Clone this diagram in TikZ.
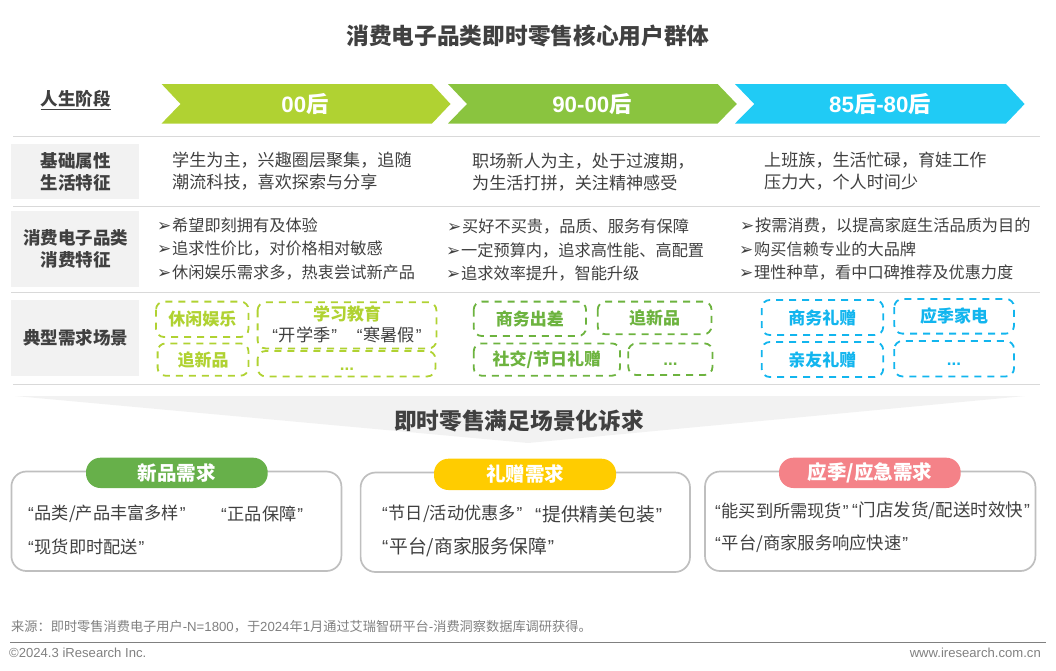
\documentclass[tikz,border=0pt]{standalone}
\usepackage{fontspec}
\setmainfont{Noto Sans CJK SC}
\newfontfamily\latf{Liberation Sans}
\newfontfamily\dej{DejaVu Sans}
\newcommand{\la}[1]{{\latf #1}}
\newcommand{\lqm}{\la{“}\hspace{.8pt}}
\newcommand{\rqm}{\hspace{.8pt}\la{”}}
\newcommand{\bu}{{\dej\fontsize{17}{18}\selectfont ➢}\hspace{.7pt}}
\definecolor{ink}{HTML}{404040}
\definecolor{lime}{HTML}{B0D232}
\definecolor{leaf}{HTML}{8AC43F}
\definecolor{leafd}{HTML}{6DB33F}
\definecolor{sky}{HTML}{20CBF5}
\definecolor{skyd}{HTML}{12B5EE}
\definecolor{panel}{HTML}{F2F2F2}
\definecolor{rulec}{HTML}{D9D9D9}
\definecolor{pillg}{HTML}{67B04A}
\definecolor{pilly}{HTML}{FFCC00}
\definecolor{pillr}{HTML}{F48288}
\tikzset{
  body/.style={anchor=west,inner sep=0pt,text=ink,align=left,font=\fontsize{17.1}{22}\selectfont},
  bul/.style={anchor=west,inner sep=0pt,text=ink,font=\fontsize{16.2}{18}\selectfont},
  chev/.style={fill=#1,draw=none},
  chevt/.style={text=white,inner sep=0pt,font=\fontsize{22.3}{24}\selectfont\bfseries},
  head/.style={text=ink,inner sep=0pt,align=center,font=\fontsize{17.5}{22}\selectfont\bfseries},
  sep/.style={draw=rulec,line width=1pt},
  dline/.style={draw=#1,line width=1.8pt,dash pattern=on 7pt off 6pt,line cap=butt,rounded corners=8pt},
  dtext/.style={inner sep=0pt,text=#1,font=\fontsize{17}{20}\selectfont\bfseries},
  card/.style={draw=black!25,line width=1.7pt,rounded corners=15pt,fill=white},
  pill/.style={fill=#1,rounded corners=14.5pt,text=white,inner sep=0pt,font=\fontsize{19.5}{20}\selectfont\bfseries},
  quo/.style={anchor=west,inner sep=0pt,text=ink,font=\fontsize{#1}{20}\selectfont},
  quo/.default=17.2,
}
% name, x1, y1, x2, y2, colour, text
\newcommand{\dbx}[7]{\draw[dline=#6] (#2,#3) rectangle (#4,#5); \node[dtext=#6] (#1) at ({(#2+#4)/2},{(#3+#5)/2}) {#7};}
\newcommand{\ripe}[7]{\node[pill=#6,minimum width={(#4-#2)*1pt},minimum height={(#5-#3)*1pt}] (#1) at ({(#2+#4)/2},{(#3+#5)/2}) {#7};}
\begin{document}
\begin{tikzpicture}[x=1pt,y=-1pt]
\useasboundingbox (0,0) rectangle (1056,670);
\node[inner sep=0pt,text=ink,font=\fontsize{22.7}{24}\selectfont\bfseries] (title) at (528,36) {消费电子品类即时零售核心用户群体};
% chevrons
\fill[chev=lime] (161.6,84) -- (432,84) -- (450.5,104) -- (432,123.5) -- (161.6,123.5) -- (180.5,104) -- cycle;
\fill[chev=leaf] (448,84) -- (717.6,84) -- (736.8,104) -- (717.6,123.5) -- (448,123.5) -- (467,104) -- cycle;
\fill[chev=sky] (735,84) -- (1006,84) -- (1024.6,104) -- (1006,123.5) -- (735,123.5) -- (754.3,104) -- cycle;
\node[chevt] (a1) at (305,104) {\la{00}后};
\node[chevt] (a2) at (592,104) {\la{90-00}后};
\node[chevt] (a3) at (880,104) {\la{85}后\la{-80}后};
\node[head] (life) at (75.5,100) {\underline{人生阶段}};
% rules
\draw[sep] (13,136.3) -- (1040,136.3);
\draw[sep] (13,206) -- (1040,206);
\draw[sep] (11,292.6) -- (1040,292.6);
\draw[sep] (13,384.8) -- (1040,384.8);
% row labels
\fill[panel] (11,143.7) rectangle (139,199.3);
\fill[panel] (11,211.4) rectangle (139,287);
\fill[panel] (11,300.3) rectangle (139,376);
\node[head] (r1) at (75.5,171.5) {基础属性\\生活特征};
\node[head] (r2) at (75.5,249) {消费电子品类\\消费特征};
\node[head] (r3) at (75.5,338) {典型需求场景};
% row 1
\node[body] (b1) at (172,171) {学生为主，兴趣圈层聚集，追随\\潮流科技，喜欢探索与分享};
\node[body] (b2) at (472,172) {职场新人为主，处于过渡期，\\为生活打拼，关注精神感受};
\node[body] (b3) at (764,171) {上班族，生活忙碌，育娃工作\\压力大，个人时间少};
% row 2
\node[bul] (c11) at (157,225.5) {\bu 希望即刻拥有及体验};
\node[bul] (c12) at (157,249) {\bu 追求性价比，对价格相对敏感};
\node[bul] (c13) at (157,272.5) {\bu 休闲娱乐需求多，热衷尝试新产品};
\node[bul] (c21) at (447,226.5) {\bu 买好不买贵，品质、服务有保障};
\node[bul] (c22) at (446,250) {\bu 一定预算内，追求高性能、高配置};
\node[bul] (c23) at (446,273) {\bu 追求效率提升，智能升级};
\node[bul] (c31) at (740,225.5) {\bu 按需消费，以提高家庭生活品质为目的};
\node[bul] (c32) at (739,249) {\bu 购买信赖专业的大品牌};
\node[bul] (c33) at (739,272.5) {\bu 理性种草，看中口碑推荐及优惠力度};
% row 3
\dbx{d1}{156}{301.6}{248.5}{337}{lime}{休闲娱乐}
\dbx{d2}{257.6}{302.3}{436.4}{348.4}{lime}{}
\dbx{d3}{157.6}{343.4}{248.5}{375.7}{lime}{追新品}
\dbx{d4}{257.6}{351}{435.4}{376.4}{lime}{}
\node[dtext=lime] (d4t) at (347,369) {\la{...}};
\node[dtext=lime] (d2t) at (347,314) {学习教育};
\node[inner sep=0pt,text=ink,font=\fontsize{17.2}{20}\selectfont] (d2q) at (347,335) {\lqm 开学季\rqm\hspace{20pt}\lqm 寒暑假\rqm};
\dbx{e1}{473.7}{301.6}{586}{336}{leafd}{商务出差}
\dbx{e2}{597.7}{301.6}{711.5}{334.3}{leafd}{追新品}
\dbx{e3}{473.7}{343.4}{620}{375.7}{leafd}{社交/节日礼赠}
\dbx{e4}{628.3}{343.4}{712.5}{375}{leafd}{}
\node[dtext=leafd] (e4t) at (670.5,364.5) {\la{...}};
\dbx{f1}{761.7}{300}{883.2}{335}{skyd}{商务礼赠}
\dbx{f2}{894.3}{299}{1014}{333.6}{skyd}{应季家电}
\dbx{f3}{761.7}{342}{883.2}{377}{skyd}{亲友礼赠}
\dbx{f4}{894.3}{341}{1014}{376.4}{skyd}{}
\node[dtext=skyd] (f4t) at (954,364.5) {\la{...}};
% banner
\fill[panel] (15,396) -- (1025,396) -- (528,443) -- cycle;
\node[inner sep=0pt,text=ink,font=\fontsize{22.7}{24}\selectfont\bfseries] (sub) at (519,421) {即时零售满足场景化诉求};
% cards
\draw[card] (11.4,471.5) rectangle (341.4,571);
\draw[card] (360.6,472.5) rectangle (690,572);
\draw[card] (705,471.5) rectangle (1035.4,571);
\ripe{p1}{86}{457.7}{267.7}{488}{pillg}{新品需求}
\ripe{p2}{434}{458.7}{616}{490}{pilly}{礼赠需求}
\ripe{p3}{779}{457.7}{960.7}{488}{pillr}{应季/应急需求}
\node[quo] (q11) at (28,514) {\lqm 品类/产品丰富多样\rqm};
\node[quo] (q12) at (221,514) {\lqm 正品保障\rqm};
\node[quo] (q13) at (28,547) {\lqm 现货即时配送\rqm};
\node[quo] (q21) at (382,514) {\lqm 节日/活动优惠多\rqm};
\node[quo=18.8] (q22) at (535,514) {\lqm 提供精美包装\rqm};
\node[quo=18.8] (q23) at (382,547) {\lqm 平台/商家服务保障\rqm};
\node[quo=17.2] (q31) at (715,511) {\lqm 能买到所需现货\rqm};
\node[quo=17.5] (q32) at (852,511) {\lqm 门店发货/配送时效快\rqm};
\node[quo=17.3] (q33) at (715,544) {\lqm 平台/商家服务响应快速\rqm};
% footer
\node[anchor=west,inner sep=0pt,text=black!50,font=\fontsize{13.2}{14}\selectfont] (src) at (11,627) {来源：即时零售消费电子用户\la{-N=1800}，于\la{2024}年\la{1}月通过艾瑞智研平台\la{-}消费洞察数据库调研获得。};
\draw[draw=black!50,line width=1pt] (10,642) -- (1046,642);
\node[anchor=west,inner sep=0pt,text=black!50,font=\fontsize{13.1}{14}\selectfont\latf] (copy) at (9,653) {©2024.3 iResearch Inc.};
\node[anchor=east,inner sep=0pt,text=black!50,font=\fontsize{13.1}{14}\selectfont\latf] (web) at (1041,653) {www.iresearch.com.cn};
\end{tikzpicture}
\end{document}
